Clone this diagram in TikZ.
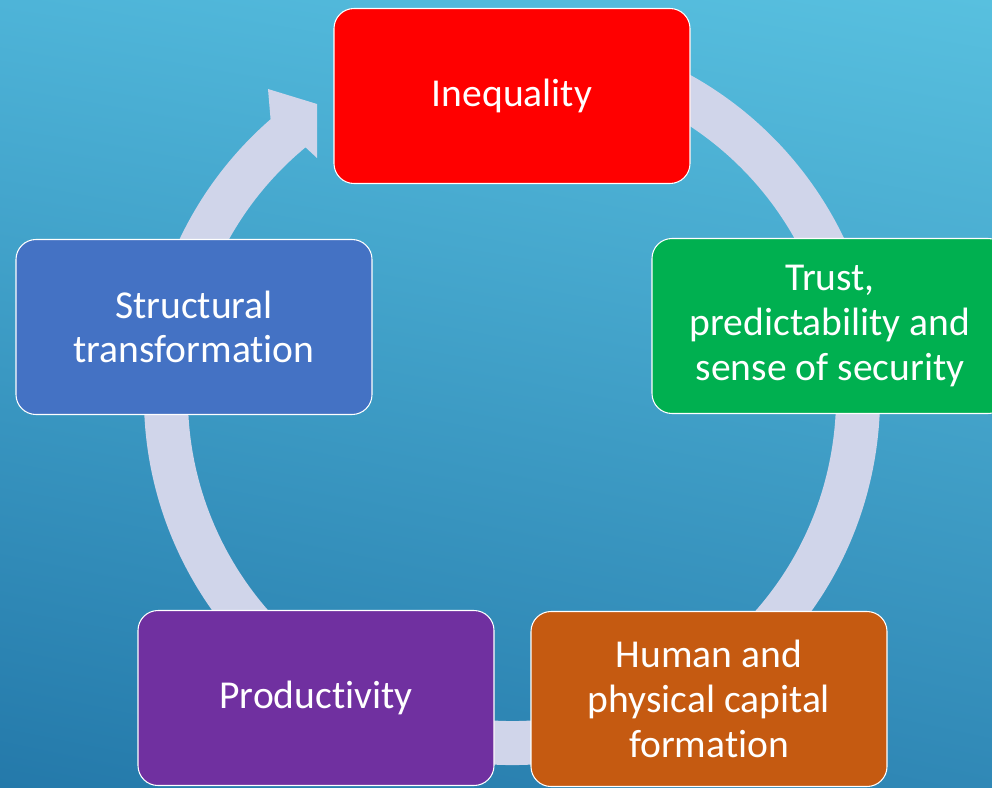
\documentclass[tikz,border=0pt]{standalone}
\usepackage{fontspec}
\setmainfont{Carlito}[Ligatures=NoCommon]
\usepackage{xcolor}
\usepackage{tikz}
\usetikzlibrary{calc,shadings}

\definecolor{bgtl}{HTML}{4EB4D8}
\definecolor{bgtr}{HTML}{58C0DF}
\definecolor{bgbl}{HTML}{2479AA}
\definecolor{bgbr}{HTML}{3088B6}
\definecolor{ringc}{HTML}{D0D5EA}
\definecolor{ineqc}{HTML}{FF0000}
\definecolor{trustc}{HTML}{00B050}
\definecolor{capc}{HTML}{C55A11}
\definecolor{prodc}{HTML}{7030A0}
\definecolor{structc}{HTML}{4472C4}

\begin{document}
\begin{tikzpicture}[
    x=0.2mm, y=0.2mm,
    stage/.style={rectangle,rounded corners=4mm,draw=white,line width=0.6pt,
        minimum width=71.2mm,minimum height=35mm,inner sep=2pt,
        align=center,text=white,font=\fontsize{22.5}{25.5}\selectfont},
    ring/.style={draw=ringc,line width=8.8mm},
]
% ---- background ----
\useasboundingbox (0,0) rectangle (992,787);
\clip (0,0) rectangle (992,787);
\shade[upper left=bgtl,upper right=bgtr,lower left=bgbl,lower right=bgbr]
    (0,0) rectangle (992,787);

% ---- cycle ring with head at top left ----
\coordinate (hub) at (512,390);
\draw[ring] ($(hub)+(80:346)$) arc[start angle=80,end angle=-231,radius=346];
\fill[ringc] ($(hub)+(131:368)$) -- (268,698) -- (317,683) -- (317,629)
    -- (303,642) -- ($(hub)+(131:324)$) -- cycle;

% ---- stages, clockwise from the top ----
\node[stage,fill=ineqc] (ineq) at (512,691) {Inequality};
\node[stage,fill=trustc] (trust) at (830,461) {Trust,\\predictability and\\sense of security};
\node[stage,fill=capc] (capital) at (709,88) {Human and\\physical capital\\formation};
\node[stage,fill=prodc] (prod) at (316,89) {Productivity};
\node[stage,fill=structc] (struct) at (194,460) {Structural\\transformation};
\end{tikzpicture}
\end{document}
